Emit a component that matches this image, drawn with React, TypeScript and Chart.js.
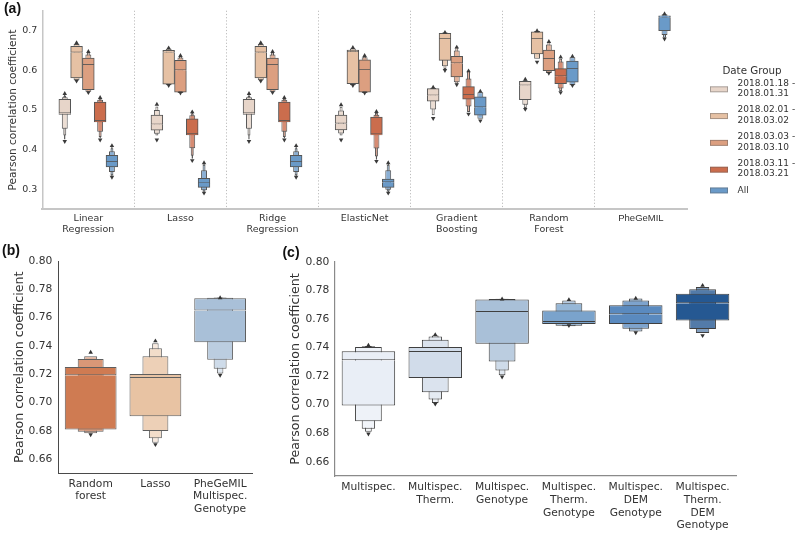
import React, { useEffect, useRef } from 'react';
import { Chart, registerables } from 'chart.js';
Chart.register(...registerables);

// ---------------- DATA ----------------
// Letter-value (boxen) summaries: [min, lo3, lo2, lo1, q1, median, q3, hi1, hi2, hi3, max]
const modelLabels = [['Linear', 'Regression'], 'Lasso', ['Ridge', 'Regression'], 'ElasticNet', ['Gradient', 'Boosting'], ['Random', 'Forest'], 'PheGeMIL'];
const dateGroups = [['2018.01.18 -', '2018.01.31'], ['2018.02.01 -', '2018.03.02'], ['2018.03.03 -', '2018.03.10'], ['2018.03.11 -', '2018.03.21'], 'All'];

const boxes0118 = [
  [0.421, 0.426, 0.436, 0.453, 0.489, 0.492, 0.527, 0.532, 0.535, 0.538, 0.541],
  [0.425, null, 0.436, 0.440, 0.449, 0.464, 0.487, 0.500, 0.509, null, 0.514],
  [0.421, 0.426, 0.436, 0.453, 0.489, 0.492, 0.527, 0.532, 0.535, 0.538, 0.541],
  [0.425, null, 0.436, 0.441, 0.450, 0.466, 0.487, 0.499, 0.508, null, 0.513],
  [0.479, null, 0.487, 0.501, 0.522, 0.537, 0.554, 0.556, 0.557, null, 0.557],
  [0.502, null, 0.505, 0.513, 0.526, 0.562, 0.572, 0.574, 0.575, null, 0.577],
  null,
];
const boxes0201 = [
  [0.573, null, 0.575, 0.575, 0.581, 0.645, 0.660, 0.666, 0.669, null, 0.669],
  [0.562, null, null, 0.562, 0.565, 0.645, 0.650, 0.654, null, null, 0.656],
  [0.573, null, 0.575, 0.575, 0.581, 0.645, 0.660, 0.666, 0.669, null, 0.669],
  [0.562, null, null, 0.562, 0.566, 0.646, 0.651, 0.655, null, null, 0.657],
  [0.600, null, 0.603, 0.610, 0.625, 0.679, 0.693, 0.695, 0.696, null, 0.695],
  [0.621, null, null, 0.629, 0.641, 0.679, 0.697, 0.699, null, null, 0.699],
  null,
];
const boxes0303 = [
  [0.544, null, 0.546, 0.546, 0.551, 0.614, 0.631, 0.640, 0.645, null, 0.647],
  [0.543, null, 0.543, 0.543, 0.545, 0.600, 0.625, 0.632, 0.637, null, 0.637],
  [0.544, null, 0.546, 0.546, 0.551, 0.614, 0.631, 0.640, 0.645, null, 0.647],
  [0.543, null, 0.543, 0.543, 0.545, 0.601, 0.626, 0.633, 0.637, null, 0.637],
  [0.564, null, 0.566, 0.570, 0.583, 0.618, 0.635, 0.650, 0.658, null, 0.658],
  [0.593, null, 0.593, 0.593, 0.599, 0.629, 0.651, 0.665, 0.671, null, 0.672],
  null,
];
const boxes0311 = [
  [0.425, 0.428, 0.432, 0.445, 0.470, 0.473, 0.520, 0.526, 0.529, 0.531, 0.531],
  [0.373, 0.377, 0.385, 0.404, 0.437, 0.440, 0.478, 0.487, 0.492, 0.494, 0.495],
  [0.425, 0.428, 0.432, 0.445, 0.470, 0.473, 0.520, 0.526, 0.529, 0.531, 0.531],
  [0.371, 0.375, 0.383, 0.403, 0.437, 0.439, 0.482, 0.488, 0.493, 0.495, 0.496],
  [0.490, null, 0.495, 0.509, 0.527, 0.538, 0.559, 0.579, 0.598, null, 0.598],
  [0.544, null, 0.548, 0.554, 0.566, 0.585, 0.604, 0.622, 0.629, null, 0.633],
  null,
];
const boxesAll = [
  [0.331, 0.332, 0.336, 0.344, 0.357, 0.370, 0.386, 0.396, 0.404, 0.409, 0.410],
  [0.291, 0.293, 0.295, 0.298, 0.305, 0.316, 0.328, 0.348, 0.362, 0.366, 0.367],
  [0.331, 0.332, 0.336, 0.344, 0.357, 0.370, 0.386, 0.396, 0.404, 0.409, 0.410],
  [0.291, 0.293, 0.295, 0.299, 0.305, 0.318, 0.326, 0.348, 0.362, 0.366, 0.367],
  [0.473, null, null, 0.478, 0.487, 0.507, 0.533, 0.545, null, null, 0.547],
  [0.562, null, null, 0.562, 0.570, 0.604, 0.623, 0.633, null, null, 0.635],
  [0.679, null, 0.682, 0.689, 0.700, 0.733, 0.737, 0.741, 0.742, null, 0.742],
];
const yTicksA = [0.3, 0.4, 0.5, 0.6, 0.7];

const labelsB = [['Random', 'forest'], 'Lasso', ['PheGeMIL', 'Multispec.', 'Genotype']];
const boxesB = [
  [0.6775, null, 0.6785, 0.6795, 0.6811, 0.7193, 0.7252, 0.7308, 0.7327, null, 0.7355],
  [0.6705, 0.6717, 0.6748, 0.6800, 0.6905, 0.7174, 0.7203, 0.7327, 0.7385, 0.7420, 0.7435],
  [0.7195, 0.7206, 0.7240, 0.7303, 0.7427, 0.7650, 0.7737, 0.7740, 0.7742, 0.7743, 0.7740],
];

const labelsC = ['Multispec.', ['Multispec.', 'Therm.'], ['Multispec.', 'Genotype'], ['Multispec.', 'Therm.', 'Genotype'], ['Multispec.', 'DEM', 'Genotype'], ['Multispec.', 'Therm.', 'DEM', 'Genotype']];
const boxesC = [
  [0.6795, 0.6810, 0.6831, 0.6884, 0.6994, 0.7311, 0.7374, 0.7404, 0.7410, 0.7412, 0.7415],
  [0.7005, 0.7012, 0.7036, 0.7087, 0.7187, 0.7369, 0.7404, 0.7455, 0.7478, 0.7485, 0.7490],
  [0.7195, 0.7206, 0.7240, 0.7303, 0.7427, 0.7650, 0.7737, 0.7740, 0.7742, 0.7743, 0.7740],
  [0.7555, null, 0.7550, 0.7553, 0.7565, 0.7579, 0.7660, 0.7711, 0.7730, null, 0.7735],
  [0.7505, null, 0.7513, 0.7532, 0.7565, 0.7634, 0.7697, 0.7730, 0.7745, null, 0.7745],
  [0.7485, null, 0.7502, 0.7530, 0.7590, 0.7711, 0.7777, 0.7809, 0.7825, null, 0.7835],
];
const yTicksBC = [0.66, 0.68, 0.7, 0.72, 0.74, 0.76, 0.78, 0.8];

// ---------------- STYLE ----------------
const FONT = "'DejaVu Sans', sans-serif";
const TXT = '#333333';
const hueColors = ['#e7d5c9', '#e6c1a4', '#dc9f80', '#cb6d4d', '#6a9ac8'];
const colorsB = ['#cf7b52', '#e8c3a3', '#a9c0d8'];
const colorsC = ['#e9eef6', '#d1dcea', '#a9c0d8', '#7aa3cc', '#5a8abf', '#255892'];
const LEVEL_W = [1, 0.5, 0.25, 0.125];
const LEVEL_F = [0, 0.2125, 0.425, 0.6375];

function tint(hex: string, f: number) {
  const n = parseInt(hex.slice(1), 16);
  const m = (c: number) => Math.round(c + (255 - c) * f);
  return `rgb(${m(n >> 16)},${m((n >> 8) & 255)},${m(n & 255)})`;
}

type Box = (number | null)[] | null;

// bars placed on the hidden linear axis 'x2' at category index + hue offset
function boxDatasets(boxes: Box[], color: (i: number) => string, xOff: number, catPct: number, edge: string) {
  const common = {
    type: 'bar', grouped: false, categoryPercentage: catPct, borderColor: edge, borderWidth: 1,
    xAxisID: 'x2', yAxisID: 'y',
  };
  const ds: any[] = [];
  const build = (lo: number, hi: number, level: number) => {
    const pts: any[] = [];
    const cols: string[] = [];
    boxes.forEach((b, i) => {
      if (b && b[lo] != null && b[hi] != null) {
        pts.push({ x: i + xOff, y: [b[lo], b[hi]] });
        cols.push(tint(color(i), LEVEL_F[level]));
      }
    });
    return { pts, cols };
  };
  [[3, 7], [2, 8], [1, 9]].forEach(([lo, hi], k) => {
    const level = k + 1;
    const { pts, cols } = build(lo, hi, level);
    ds.push({ ...common, order: level + 1, barPercentage: LEVEL_W[level], borderSkipped: false, data: pts, backgroundColor: cols });
  });
  const low = build(4, 5, 0);
  ds.push({ ...common, order: 1, barPercentage: LEVEL_W[0], borderSkipped: 'top', data: low.pts, backgroundColor: low.cols });
  const up = build(5, 6, 0);
  ds.push({ ...common, order: 1, barPercentage: LEVEL_W[0], borderSkipped: false, data: up.pts, backgroundColor: up.cols });
  return ds;
}

function markerDs(points: { x: number; y: number }[], rotation: number, color: string) {
  return {
    type: 'scatter', xAxisID: 'x2', yAxisID: 'y', order: 0, data: points, showLine: false,
    pointStyle: 'triangle', pointRadius: 2.6, pointRotation: rotation,
    pointBackgroundColor: color, pointBorderColor: color, pointBorderWidth: 0,
  };
}

function markers(boxes: Box[], xOff: number, color: string, up: any[], down: any[]) {
  boxes.forEach((b, i) => {
    if (!b) return;
    up.push({ x: i + xOff, y: b[10] as number });
    down.push({ x: i + xOff, y: b[0] as number });
  });
}

function panelLabel(text: string, x: number, y: number) {
  return {
    id: 'panelLabel' + text.replace(/\W/g, ''),
    afterDraw(chart: any) {
      const ctx = chart.ctx;
      ctx.save();
      ctx.font = "bold 14px 'Liberation Sans', Arial, sans-serif";
      ctx.fillStyle = '#111';
      ctx.textAlign = 'center';
      ctx.textBaseline = 'middle';
      ctx.fillText(text, x, y);
      ctx.restore();
    },
  };
}

function swatch(color: string, twoLine: boolean) {
  const c = document.createElement('canvas');
  c.width = 23;
  c.height = 24;
  const g = c.getContext('2d')!;
  const top = twoLine ? 15 : 9;
  g.fillStyle = color;
  g.fillRect(0, top, 18, 6);
  g.strokeStyle = 'rgba(90,90,90,0.55)';
  g.lineWidth = 0.8;
  g.strokeRect(0.4, top + 0.4, 17.2, 5.2);
  return c;
}

function yTitle(size: number, padTop: number) {
  return {
    display: true, text: 'Pearson correlation coefficient', color: TXT,
    font: { family: FONT, size, lineHeight: 1.2 }, padding: { top: padTop, bottom: 0 },
  };
}

function hiddenX(n: number) {
  return {
    type: 'linear', display: false, offset: false, min: -0.5, max: n - 0.5,
    afterBuildTicks: (s: any) => { s.ticks = []; },
  };
}

function configA(): any {
  const catPct = 0.64;
  const hues = [boxes0118, boxes0201, boxes0303, boxes0311, boxesAll];
  const nH = hues.length;
  const chunk = catPct / nH;
  const EDGE = '#555555';
  const datasets: any[] = [];
  const up: any[] = [];
  const down: any[] = [];
  hues.forEach((boxes, h) => {
    const off = (h - (nH - 1) / 2) * chunk;
    datasets.push(...boxDatasets(boxes, () => hueColors[h], off, 1, EDGE));
    markers(boxes, off, '#3a3a3a', up, down);
  });
  datasets.push(markerDs(up, 0, '#3a3a3a'), markerDs(down, 180, '#3a3a3a'));
  return {
    type: 'bar',
    data: { labels: modelLabels, datasets },
    options: {
      animation: false, responsive: false, maintainAspectRatio: false, events: [],
      layout: { padding: { top: 10, right: 0, bottom: 0, left: 0 } },
      plugins: {
        tooltip: { enabled: false },
        legend: {
          display: true, position: 'right', align: 'start', maxWidth: 96,
          title: {
            display: true, text: 'Date Group', color: TXT,
            font: { family: FONT, size: 10.3, lineHeight: 1.2 }, padding: { top: 56, bottom: -5.6 },
          },
          labels: {
            usePointStyle: true, pointStyleWidth: 23, padding: 6, color: TXT,
            font: { family: FONT, size: 9, lineHeight: 1.155 },
            generateLabels: () =>
              dateGroups.map((t, h) => ({
                text: t, pointStyle: swatch(hueColors[h], Array.isArray(t)), fillStyle: hueColors[h],
                strokeStyle: hueColors[h], lineWidth: 0, hidden: false, fontColor: TXT, datasetIndex: h,
              })),
          },
        },
      },
      scales: {
        x: {
          type: 'category', offset: true,
          grid: {
            display: true, offset: true, drawOnChartArea: true, drawTicks: false, lineWidth: 1,
            color: (c: any) => (c.index > 0 ? '#bdbdbd' : 'rgba(0,0,0,0)'),
          },
          border: { display: true, color: '#c6c6c6', width: 2, dash: [1.2, 2] },
          ticks: {
            color: TXT, padding: 3, autoSkip: false, maxRotation: 0,
            font: (c: any) => ({ family: c.index === 6 ? "'Liberation Sans', Arial" : FONT, size: 9.5, lineHeight: 1.23 }),
          },
          afterFit: (s: any) => { s.height = 30.7; },
        },
        x2: hiddenX(modelLabels.length),
        y: {
          type: 'linear', min: 0.25, max: 0.75, stacked: false,
          afterBuildTicks: (s: any) => { s.ticks = yTicksA.map((v) => ({ value: v })); },
          grid: { display: false, drawTicks: false },
          border: { display: true, color: '#c6c6c6', width: 1.5 },
          ticks: { color: TXT, padding: 5, font: { family: FONT, size: 9.5 }, callback: (v: any) => Number(v).toFixed(1) },
          title: yTitle(10.6, 7),
          afterFit: (s: any) => { s.width = 42.3; },
        },
        yPad: {
          type: 'linear', position: 'right', display: true,
          grid: { display: false, drawTicks: false }, border: { display: false }, ticks: { display: false },
          afterFit: (s: any) => { s.width = 17; },
        },
      },
    },
    plugins: [panelLabel('(a)', 12.5, 9.5)],
  };
}

function configSingle(labels: any[], boxes: Box[], colors: string[], opts: any): any {
  const up: any[] = [];
  const down: any[] = [];
  markers(boxes, 0, '#333', up, down);
  const datasets: any[] = [
    ...boxDatasets(boxes, (i) => colors[i], 0, 0.8, opts.edge),
    markerDs(up, 0, '#333'), markerDs(down, 180, '#333'),
  ];
  return {
    type: 'bar',
    data: { labels, datasets },
    options: {
      animation: false, responsive: false, maintainAspectRatio: false, events: [],
      layout: { padding: { top: opts.top, right: opts.right, bottom: 0, left: 0 } },
      plugins: { tooltip: { enabled: false }, legend: { display: false } },
      scales: {
        x: {
          type: 'category', offset: true,
          grid: { display: false, drawTicks: false },
          border: { display: true, color: opts.axis, width: opts.axisW },
          ticks: { color: TXT, padding: opts.xPad, autoSkip: false, maxRotation: 0, font: { family: FONT, size: 10.7, lineHeight: 1.19 } },
          afterFit: (s: any) => { s.height = opts.xH; },
        },
        x2: hiddenX(labels.length),
        y: {
          type: 'linear', min: 0.65, max: 0.8, stacked: false,
          afterBuildTicks: (s: any) => { s.ticks = yTicksBC.map((v) => ({ value: v })); },
          grid: { display: false, drawTicks: false },
          border: { display: true, color: opts.axis, width: opts.axisW },
          ticks: { color: TXT, padding: opts.yPad, font: { family: FONT, size: 10.7 }, callback: (v: any) => Number(v).toFixed(2) },
          title: yTitle(12.6, opts.titlePad),
          afterFit: (s: any) => { s.width = opts.yW; },
        },
      },
    },
    plugins: [panelLabel(opts.label, opts.lx, opts.ly)],
  };
}

export default function App() {
  const refA = useRef<HTMLCanvasElement>(null);
  const refB = useRef<HTMLCanvasElement>(null);
  const refC = useRef<HTMLCanvasElement>(null);

  useEffect(() => {
    const charts = [
      new Chart(refA.current!, configA()),
      new Chart(refB.current!, configSingle(labelsB, boxesB, colorsB, {
        edge: '#5e5e5e', top: 21, right: 12.5, axis: '#4a4a4a', axisW: 1, xPad: 4, xH: 62.5,
        yPad: 6, yW: 58.3, titlePad: 12.4, label: '(b)', lx: 11, ly: 11,
      })),
      new Chart(refC.current!, configSingle(labelsC, boxesC, colorsC, {
        edge: '#3f3f3f', top: 22, right: 64, axis: '#8a8a8a', axisW: 1.2, xPad: 5, xH: 60,
        yPad: 5.7, yW: 70, titlePad: 23.4, label: '(c)', lx: 26, ly: 13,
      })),
    ];
    return () => charts.forEach((c) => c.destroy());
  }, []);

  return (
    <div style={{ position: 'absolute', left: 0, top: 0, width: 800, height: 536, background: '#fff' }}>
      <canvas ref={refA} width={800} height={240} style={{ position: 'absolute', left: 0, top: 0, width: 800, height: 240 }} />
      <canvas ref={refB} width={265} height={296} style={{ position: 'absolute', left: 0, top: 240, width: 265, height: 296 }} />
      <canvas ref={refC} width={535} height={296} style={{ position: 'absolute', left: 265, top: 240, width: 535, height: 296 }} />
    </div>
  );
}
